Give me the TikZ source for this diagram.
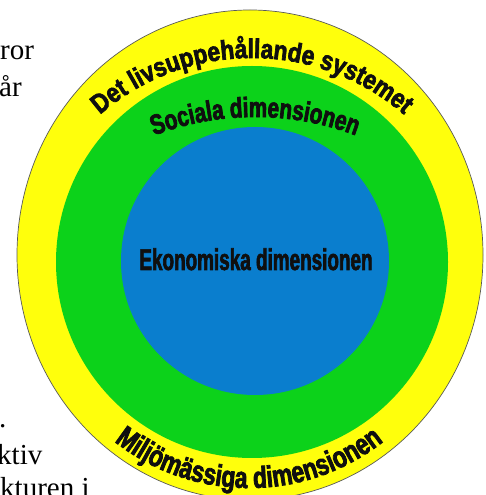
\documentclass[tikz,border=0pt]{standalone}
\usepackage{fontspec}
\usepackage{xcolor}
\usepackage{tikz}
\usetikzlibrary{decorations.text}

\setmainfont{Liberation Serif}
\newfontfamily\ovrefont[FakeStretch=0.84,FakeBold=2.5]{Liberation Sans}
\newfontfamily\socfont[FakeStretch=0.74,FakeBold=2.5]{Liberation Sans}
\newfontfamily\miljofont[FakeStretch=0.76,FakeBold=2.5]{Liberation Sans}
\newfontfamily\ekofont[FakeStretch=0.63,FakeBold=2]{Liberation Sans}

\definecolor{gul}{RGB}{255,255,12}
\definecolor{gron}{RGB}{12,210,26}
\definecolor{bla}{RGB}{10,126,206}
\definecolor{svart}{RGB}{15,15,15}

\tikzset{
	ringtext/.style={decorate, decoration={text along path, text align=center}},
	sidtext/.style={anchor=base west, inner sep=0pt, font=\fontsize{29}{29}\selectfont},
}

\begin{document}
\begin{tikzpicture}[x=1pt,y=1pt]
		\useasboundingbox (0,0) rectangle (485,495);
		\coordinate (origo) at (252,233);
		
		% lite text fran sidan bredvid
		\node[sidtext] (rad1) at (0,435) {ror};
		\node[sidtext] (rad2) at (-1,398) {år};
		\node[sidtext] (rad3) at (-1,67) {.};
		\node[sidtext] (rad4) at (-3,30) {ktiv};
		\node[sidtext] (rad5) at (0,-2) {kturen i};
		
		% ringarna
		\fill[gul, draw=black!65, line width=0.7pt] (250,240) circle[x radius=233, y radius=245];
		\fill[gron] (origo) circle[radius=196];
		\fill[bla] (255,234) circle[radius=134];
		
		% texterna langs bagarna
		\coordinate (ovre) at (252,205);
		\path[ringtext, decoration={text={|\ovrefont\bfseries\fontsize{27}{27}\selectfont\color{svart}|Det livsuppehållande systemet}}]
			(ovre) ++(180:232) arc[start angle=180, end angle=0, radius=232];
		
		\coordinate (social) at (255,95);
		\path[ringtext, decoration={text={|\socfont\bfseries\fontsize{28}{28}\selectfont\color{svart}|Sociala dimensionen}}]
			(social) ++(180:283) arc[start angle=180, end angle=0, radius=283];
		
		\coordinate (miljo) at (249,225);
		\path[ringtext, decoration={text={|\miljofont\bfseries\fontsize{30}{30}\selectfont\color{svart}|Miljömässiga dimensionen}}]
			(miljo) ++(180:218) arc[start angle=180, end angle=360, radius=218];
		
		\node[anchor=base, inner sep=0pt, text=svart, font=\ekofont\bfseries\fontsize{30}{30}\selectfont] (ekonomi) at (256,225) {Ekonomiska dimensionen};
\end{tikzpicture}
\end{document}
